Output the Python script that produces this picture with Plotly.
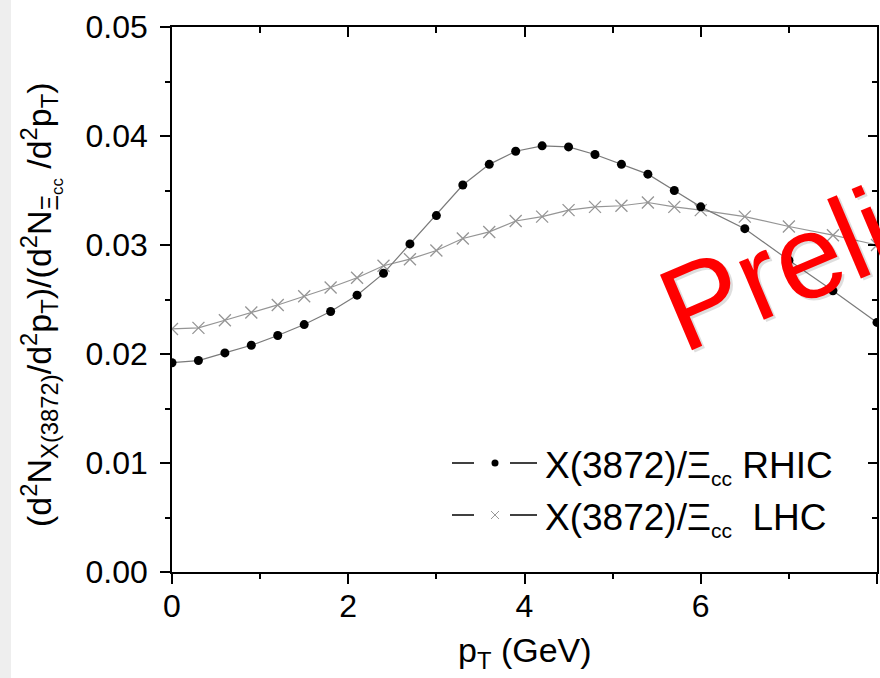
import plotly.graph_objects as go

# ---------------- data ----------------
pt_rhic = [0.0, 0.3, 0.6, 0.9, 1.2, 1.5, 1.8, 2.1, 2.4, 2.7, 3.0, 3.3, 3.6, 3.9,
           4.2, 4.5, 4.8, 5.1, 5.4, 5.7, 6.0, 6.5, 7.0, 7.5, 8.0]
ratio_rhic = [0.0192, 0.0194, 0.0201, 0.0208, 0.0217, 0.0227, 0.0239, 0.0254, 0.0274,
              0.0301, 0.0327, 0.0355, 0.0374, 0.0386, 0.0391, 0.0390, 0.0383, 0.0374,
              0.0365, 0.0350, 0.0335, 0.0315, 0.0286, 0.0258, 0.0229]
pt_lhc = pt_rhic
ratio_lhc = [0.0223, 0.0224, 0.0231, 0.0238, 0.0245, 0.0253, 0.0261, 0.0270, 0.0281,
             0.0287, 0.0295, 0.0306, 0.0312, 0.0322, 0.0326, 0.0332, 0.0335, 0.0336,
             0.0339, 0.0335, 0.0332, 0.0326, 0.0317, 0.0309, 0.0300]
x_ticks = [0, 2, 4, 6, 8]
x_minor = [1, 3, 5, 7]
y_ticks = [0.00, 0.01, 0.02, 0.03, 0.04, 0.05]
y_tick_text = ["0.00", "0.01", "0.02", "0.03", "0.04", "0.05"]
y_minor = [0.005, 0.015, 0.025, 0.035, 0.045]
legend_labels = ["X(3872)/Ξ<sub><span style='font-size:21px'>cc</span></sub> RHIC",
                 "X(3872)/Ξ<sub><span style='font-size:21px'>cc</span></sub>&nbsp; LHC"]
watermark = "Preliminary"

# ---------------- layout geometry ----------------
W, H = 880, 678
L, R, T, B = 172, 3, 27, 106
PW, PH = W - L - R, H - T - B


def px(xp):
    return (xp - L) / PW


def py(yp):
    return (H - B - yp) / PH


FONT = "Liberation Sans, Arial, sans-serif"

fig = go.Figure()

fig.add_trace(go.Scatter(
    x=pt_lhc, y=ratio_lhc, mode="lines+markers", showlegend=False,
    line=dict(color="#959595", width=1.2),
    marker=dict(symbol="x-thin-open", size=12, color="#959595",
                line=dict(color="#959595", width=1.3)),
))
fig.add_trace(go.Scatter(
    x=pt_rhic, y=ratio_rhic, mode="lines+markers", showlegend=False,
    line=dict(color="#7a7a7a", width=1.2),
    marker=dict(symbol="circle", size=9, color="black"),
))
# dummy trace for mirrored (top/right) axes
fig.add_trace(go.Scatter(x=[None], y=[None], xaxis="x2", yaxis="y2",
                         showlegend=False, hoverinfo="skip"))

axis_common = dict(showline=True, linecolor="black", linewidth=1.5,
                   showgrid=False, zeroline=False, tickcolor="black",
                   tickwidth=1.5)

fig.update_layout(
    width=W, height=H,
    margin=dict(l=L, r=R, t=T, b=B, pad=0),
    paper_bgcolor="white", plot_bgcolor="white",
    font=dict(family=FONT, color="black"),
    xaxis=dict(range=[0, 8], tickvals=x_ticks, ticks="outside", ticklen=10,
               tickfont=dict(size=32), ticklabelstandoff=-5,
               minor=dict(tickvals=x_minor, ticks="outside", ticklen=5,
                          tickcolor="black", tickwidth=1.5),
               **axis_common),
    yaxis=dict(range=[0, 0.05], tickvals=y_ticks, ticktext=y_tick_text,
               ticks="outside", ticklen=10, tickfont=dict(size=32),
               ticklabelstandoff=6,
               minor=dict(tickvals=y_minor, ticks="outside", ticklen=5,
                          tickcolor="black", tickwidth=1.5),
               **axis_common),
    xaxis2=dict(range=[0, 8], overlaying="x", side="top", anchor="y2",
                tickvals=x_ticks, ticks="inside", ticklen=10,
                showticklabels=False,
                minor=dict(tickvals=x_minor, ticks="inside", ticklen=6,
                           tickcolor="black", tickwidth=1.5),
                **axis_common),
    yaxis2=dict(range=[0, 0.05], overlaying="y", side="right", anchor="x2",
                tickvals=y_ticks, ticks="inside", ticklen=9,
                showticklabels=False,
                minor=dict(tickvals=y_minor, ticks="inside", ticklen=5,
                           tickcolor="black", tickwidth=1.5),
                **axis_common),
)

shapes = []
# left grey strip of the slide
shapes.append(dict(type="rect", xref="paper", yref="paper",
                   x0=px(0), x1=px(11), y0=py(H), y1=py(0),
                   line=dict(width=0), fillcolor="#eeeeee", layer="below"))

annotations = []
# axis titles
annotations.append(dict(
    xref="paper", yref="paper", x=px(525), y=py(652),
    text="p<sub>T</sub> (GeV)", showarrow=False,
    font=dict(size=34, family=FONT, color="black"),
    xanchor="center", yanchor="middle"))
annotations.append(dict(
    xref="paper", yref="paper", x=px(41), y=py(305),
    text=("(d<sup>2</sup>N<sub>X(3872)</sub>/d<sup>2</sup>p<sub>T</sub>)/"
          "(d<sup>2</sup>N<sub>Ξ<sub>cc</sub></sub> /d<sup>2</sup>p<sub>T</sub>)"),
    textangle=-90, showarrow=False,
    font=dict(size=34, family=FONT, color="black"),
    xanchor="center", yanchor="middle"))

# legend (drawn by hand)
leg_rows = [463, 515]
for i, yrow in enumerate(leg_rows):
    for (a, b) in [(452, 474), (510, 537)]:
        shapes.append(dict(type="line", xref="paper", yref="paper",
                           x0=px(a), x1=px(b), y0=py(yrow), y1=py(yrow),
                           line=dict(color="black", width=1.5)))
    annotations.append(dict(
        xref="paper", yref="paper", x=px(543), y=py(yrow + 4),
        text=legend_labels[i], showarrow=False,
        font=dict(size=37, family=FONT, color="black"),
        xanchor="left", yanchor="middle"))

# legend markers
shapes.append(dict(type="circle", xref="paper", yref="paper",
                   xsizemode="pixel", ysizemode="pixel",
                   xanchor=px(495), yanchor=py(leg_rows[0]),
                   x0=-3.5, x1=3.5, y0=-3.5, y1=3.5,
                   fillcolor="black", line=dict(color="black", width=0)))
for (dx0, dy0, dx1, dy1) in [(-4, -4, 4, 4), (-4, 4, 4, -4)]:
    shapes.append(dict(type="line", xref="paper", yref="paper",
                       xsizemode="pixel", ysizemode="pixel",
                       xanchor=px(495), yanchor=py(leg_rows[1]),
                       x0=dx0, x1=dx1, y0=dy0, y1=dy1,
                       line=dict(color="#999999", width=1)))

# watermark with soft shadow
annotations.append(dict(
    xref="paper", yref="paper", x=px(944), y=py(202),
    text=watermark, textangle=-23, showarrow=False,
    font=dict(size=119, family=FONT, color="rgba(0,0,0,0.13)"),
    xanchor="center", yanchor="middle"))
annotations.append(dict(
    xref="paper", yref="paper", x=px(941), y=py(199),
    text=watermark, textangle=-23, showarrow=False,
    font=dict(size=119, family=FONT, color="#ff0000"),
    xanchor="center", yanchor="middle"))

fig.update_layout(shapes=shapes, annotations=annotations)

fig.write_html("out.html",
               config={"displayModeBar": False},
               post_script="document.body.style.margin='0';"
                           "document.body.style.overflow='hidden';")
